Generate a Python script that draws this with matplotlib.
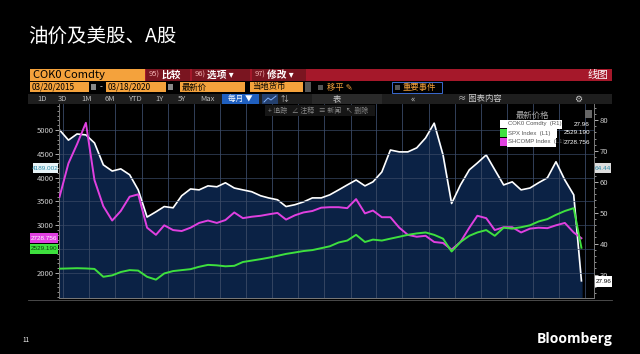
import matplotlib
matplotlib.use('Agg')
import matplotlib.pyplot as plt
import matplotlib.dates as mdates
from matplotlib.patches import Rectangle
from matplotlib.ticker import MultipleLocator
import pandas as pd

plt.rcParams['font.family'] = ['Noto Sans CJK SC', 'DejaVu Sans']

# данные: месячные значения (2015-03 ... 2020-03)
dates = list(pd.date_range('2015-03-20', periods=60, freq=pd.DateOffset(months=1))) + [pd.Timestamp('2020-03-18')]
oil = [76.8, 73.5, 75.5, 75.2, 72.6, 65.5, 63.5, 64.2, 62.3, 57.4,
       48.6, 50.3, 52.0, 51.6, 55.5, 57.7, 57.4, 58.7, 58.4, 59.7,
       58.0, 57.4, 56.8, 55.5, 54.8, 54.2, 52.0, 52.6, 53.5, 54.8,
       54.8, 55.8, 57.4, 59.0, 60.6, 58.7, 60.0, 63.2, 70.3, 69.7,
       69.7, 71.0, 74.2, 79.0, 68.7, 53.0, 59.0, 63.9, 66.1, 68.7,
       63.9, 59.0, 60.0, 57.4, 58.0, 59.7, 61.3, 66.5, 60.6, 55.8,
       27.96]
spx = [2090, 2095, 2100, 2095, 2085, 1920, 1950, 2020, 2060, 2050,
       1920, 1860, 1990, 2040, 2060, 2080, 2130, 2170, 2160, 2140,
       2150, 2230, 2260, 2290, 2320, 2360, 2400, 2430, 2460, 2480,
       2520, 2560, 2640, 2680, 2800, 2650, 2700, 2680, 2720, 2760,
       2800, 2830, 2850, 2800, 2720, 2450, 2650, 2780, 2850, 2900,
       2780, 2950, 2930, 2960, 3000, 3080, 3130, 3220, 3300, 3360,
       2529.19]
shcomp = [3600, 4300, 4700, 5150, 3950, 3400, 3100, 3300, 3600, 3650,
          2950, 2800, 3000, 2900, 2880, 2950, 3050, 3100, 3050, 3110,
          3270, 3150, 3180, 3200, 3230, 3260, 3120, 3210, 3270, 3300,
          3370, 3380, 3380, 3360, 3550, 3250, 3310, 3170, 3170, 2950,
          2800, 2760, 2780, 2650, 2630, 2490, 2650, 2950, 3200, 3150,
          2900, 2960, 2960, 2850, 2930, 2950, 2940, 3000, 3050, 2850,
          2728.756]
left_ticks = [2000, 2500, 3000, 3500, 4000, 4500, 5000]
left_labels = ['2000', '', '3000', '3500', '4000', '4500', '5000']
right_ticks = [30, 40, 50, 60, 70, 80]
periods = ['1D', '3D', '1M', '6M', 'YTD', '1Y', '5Y', 'Max']

W, H = 640, 354
orange = '#f4a23c'
magenta = '#e040e0'
green = '#3ee03e'

fig = plt.figure(figsize=(6.4, 3.54), dpi=100, facecolor='black')

ax = fig.add_axes([59 / W, 1 - 298 / H, 535 / W, 194 / H])
ax.set_facecolor('black')
ax.fill_between(dates, oil, 0, color='#0b2245', zorder=1)
ax.plot(dates, oil, color='white', lw=1.2, zorder=3)
ax.set_ylim(22.4, 85.2)
ax.set_xlim(pd.Timestamp('2015-03-18'), pd.Timestamp('2020-05-01'))
ax.xaxis.set_major_locator(mdates.MonthLocator(bymonth=[1, 4, 7, 10]))
ax.tick_params(axis='x', length=0, labelbottom=False)
ax.grid(axis='x', color='#3a4a66', lw=0.6)

ax2 = ax.twinx()
ax.yaxis.tick_right()
ax.set_yticks(right_ticks)
ax.yaxis.set_minor_locator(MultipleLocator(2))
ax.tick_params(axis='y', which='major', colors='#cccccc', labelsize=5.5, length=3, width=0.6, pad=1)
ax.tick_params(axis='y', which='minor', colors='#cccccc', length=1.5, width=0.5)

ax2.yaxis.tick_left()
ax2.plot(dates, shcomp, color=magenta, lw=1.4, zorder=3)
ax2.plot(dates, spx, color=green, lw=1.4, zorder=4)
ax2.set_ylim(1475, 5545)
ax2.set_yticks(left_ticks, left_labels)
ax2.yaxis.set_minor_locator(MultipleLocator(100))
ax2.tick_params(axis='y', which='major', colors='#cccccc', labelsize=5.5, length=3, width=0.6, pad=1)
ax2.tick_params(axis='y', which='minor', colors='#cccccc', length=1.5, width=0.5)
ax2.grid(axis='y', color='#3a4a66', lw=0.6, alpha=0.8)
for a in (ax, ax2):
    a.spines['top'].set_visible(False)
    for s in ('left', 'right', 'bottom'):
        a.spines[s].set_color('#777777')
        a.spines[s].set_linewidth(0.7)

# интерфейс терминала поверх графика
ov = fig.add_axes([0, 0, 1, 1])
ov.set_xlim(0, W)
ov.set_ylim(H, 0)
ov.axis('off')
ov.patch.set_alpha(0)


def box(x, y, w, h, color, **kw):
    ov.add_patch(Rectangle((x, y), w, h, facecolor=color, edgecolor=kw.pop('ec', 'none'), lw=kw.pop('lw', 0), **kw))


def txt(x, y, s, color='white', size=6, ha='left', **kw):
    ov.text(x, y, s, color=color, fontsize=size, ha=ha, va='center', **kw)


txt(28, 36, '油价及美股、A股', size=14)

# строка 1
box(30, 69, 115, 12, orange)
txt(33, 75, 'COK0 Comdty', color='black', size=8)
box(145, 69, 467, 12, '#a5182a')
for x, w, num, lab in [(146, 44, '95)', '比较'), (192, 58, '96)', '选项 ▾'), (252, 54, '97)', '修改 ▾')]:
    box(x, 69, w, 12, '#7a1520')
    txt(x + 3, 75, num, color='#f0b0b0', size=5.5)
    txt(x + 15, 75, lab, size=7, fontweight='bold')
txt(608, 75, '线图', size=7.5, ha='right')

# строка 2
for x, w, lab in [(30, 59, '03/20/2015'), (106, 60, '03/18/2020'), (180, 65, '最新价'), (250, 53, '当地货币')]:
    box(x, 82, w, 10, orange)
    txt(x + 2, 87, lab, color='black', size=6)
box(91, 84, 5, 6, '#888888')
box(168, 84, 5, 6, '#888888')
txt(100, 87, '-', color='#cccccc', size=6)
box(305, 82, 6, 10, '#555555')
box(318, 85, 5, 5, '#555555')
txt(327, 87, '移平 ✎', color=orange, size=6)
box(392, 82, 50, 11, 'none', ec='#3a6ad0', lw=0.7)
box(395, 85, 5, 5, '#555555')
txt(403, 87.5, '重要事件', color=orange, size=6)

# строка 3
box(28, 94, 584, 10, '#1e1e1e')
for lab, x in zip(periods, [42, 62, 87, 110, 135, 160, 182, 207]):
    txt(x, 99, lab, color='#bbbbbb', size=5.5, ha='center')
box(222, 94, 37, 10, '#1f5fbf')
txt(240, 99, '每月 ▼', size=5.5, ha='center')
box(262, 94, 16, 10, '#24406e')
ov.plot([264, 268, 271, 276], [102, 98, 100, 96], color='#7fb0ff', lw=0.7)
txt(284, 99, '⇅', color='#bbbbbb', size=5.5, ha='center')
box(312, 94, 70, 10, '#2a2a2a')
txt(337, 99, '表', color='#cccccc', size=6, ha='center')
txt(413, 99, '«', color='#cccccc', size=6.5, ha='center')
txt(480, 99, '≈ 图表内容', color='#cccccc', size=6, ha='center')
txt(578, 99, '⚙', color='#cccccc', size=6.5, ha='center')

# строка 4
box(265, 105, 110, 11, '#161616')
txt(268, 111, '+ 追踪   ∠ 注释   ≡ 新闻   ↖ 删除', color='#888888', size=5)

# легенда
txt(532, 115, '最新价格', color='#aaaaaa', size=6, ha='center')
box(585, 110, 7, 8, '#666666')
for y, col, name, w, val in [(124, 'white', 'COK0 Comdty  (R1)', 55, '27.96'),
                             (133, green, 'SPX Index  (L1)', 50, '2529.190'),
                             (142, magenta, 'SHCOMP Index  (L1)', 49, '2728.756')]:
    box(500, y - 4, 7, 8, col)
    box(507, y - 4.5, w, 9, 'white')
    txt(508, y, name, color='#555555', size=4.3, family='Liberation Sans')
    txt(590, y, val, size=4.6, ha='right', family='Liberation Sans')

# подписи значений на осях
box(33, 163, 25, 10, '#e8f4f8')
txt(45.5, 168, '4189.002', color='#2a8aa8', size=4.6, ha='center', family='Liberation Sans')
box(30, 233, 28, 10, magenta)
txt(44, 238, '2728.756', size=4.6, ha='center', family='Liberation Sans')
box(30, 244, 28, 10, green)
txt(44, 249, '2529.190', color='#0a3a0a', size=4.6, ha='center', family='Liberation Sans')
box(595, 163, 16, 10, '#dddddd')
txt(603, 168, '64.44', color='#2a8aa8', size=4.6, ha='center', family='Liberation Sans')
box(595, 276, 17, 11, 'white')
txt(603.5, 281.5, '27.96', color='black', size=4.6, ha='center', family='Liberation Sans')

ov.plot([28, 612], [299.5, 299.5], color='#555555', lw=0.6)

txt(22, 340, '11', size=4.5)
txt(612, 339, 'Bloomberg', size=10, ha='right', fontweight='bold', family=['Open Sans', 'DejaVu Sans'])

fig.savefig('out.png', dpi=100, facecolor='black')
